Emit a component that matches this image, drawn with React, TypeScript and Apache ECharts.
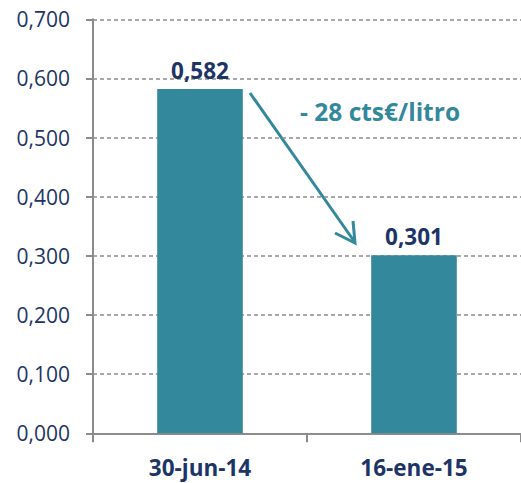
import React, { useEffect, useRef } from "react";
import * as echarts from "echarts";

const categories = ["30-jun-14", "16-ene-15"];
const prices = [0.582, 0.301];
const yTicks = { min: 0, max: 0.7, interval: 0.1 };
const annotation = "- 28 cts€/litro";

const TEAL = "#33889c";
const NAVY = "#1c3566";
const FONT = "'Open Sans', Lato, sans-serif";

export default function App() {
  const ref = useRef<HTMLDivElement>(null);
  useEffect(() => {
    const chart = echarts.init(ref.current!, undefined, { renderer: "svg" });
    chart.setOption({
      animation: false,
      grid: { left: 93, right: -2, top: 19.3, bottom: 49.7, containLabel: false },
      xAxis: {
        type: "category",
        data: categories,
        axisLine: { show: true, lineStyle: { color: "#8c8c8c", width: 2 } },
        axisTick: { show: true, length: 9, alignWithLabel: false, lineStyle: { color: "#8c8c8c", width: 2 } },
        axisLabel: { margin: 23, color: NAVY, fontSize: 22.5, fontWeight: "bold", fontFamily: FONT },
      },
      yAxis: {
        type: "value",
        min: yTicks.min,
        max: yTicks.max,
        interval: yTicks.interval,
        axisLine: { show: true, lineStyle: { color: "#8c8c8c", width: 2 } },
        axisTick: { show: true, length: 7, lineStyle: { color: "#8c8c8c", width: 2 } },
        splitLine: { show: true, lineStyle: { color: "#8c8c8c", type: [4, 3], width: 1.5 } },
        axisLabel: {
          margin: 23,
          color: NAVY,
          fontSize: 21,
          fontFamily: FONT,
          formatter: (v: number) => v.toFixed(3).replace(".", ","),
        },
      },
      series: [
        {
          type: "bar",
          data: prices,
          barWidth: "40%",
          itemStyle: { color: TEAL },
          label: {
            show: true,
            position: "top",
            distance: 7,
            color: NAVY,
            fontSize: 22.5,
            fontWeight: "bold",
            fontFamily: FONT,
            formatter: (p: any) => p.value.toFixed(3).replace(".", ","),
          },
        },
      ],
      graphic: [
        {
          type: "line",
          shape: { x1: 250, y1: 93, x2: 354, y2: 241 },
          style: { stroke: TEAL, lineWidth: 3 },
        },
        {
          type: "polyline",
          shape: { points: [[335, 233], [355, 243], [353, 221]] },
          style: { stroke: TEAL, lineWidth: 3, fill: null },
        },
        {
          type: "text",
          x: 300,
          y: 111,
          style: {
            text: annotation,
            fill: TEAL,
            font: `bold 24.5px ${FONT}`,
            verticalAlign: "middle",
          },
        },
      ],
    });
    return () => chart.dispose();
  }, []);
  return (
    <div
      ref={ref}
      style={{ position: "fixed", left: 0, top: 0, width: 521, height: 483, background: "#fff" }}
    />
  );
}
